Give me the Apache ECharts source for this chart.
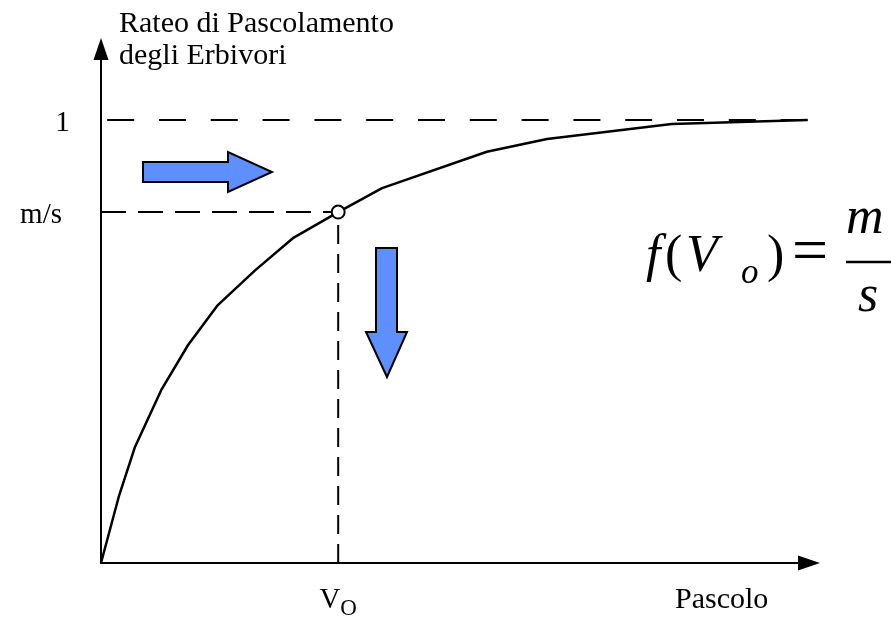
<!DOCTYPE html>
<html>
<head>
<meta charset="utf-8">
<script src="https://cdn.jsdelivr.net/npm/echarts@6/dist/echarts.min.js"></script>
<style>
  html, body { margin: 0; padding: 0; background: #fff; }
  #chart { width: 891px; height: 619px; }
</style>
</head>
<body>
<div id="chart"></div>
<script>
// curva del rateo di pascolamento
var curveX = [0, 0.25, 0.48, 0.85, 1.23, 1.65, 2.18, 2.71, 3.35, 3.97, 5.45, 6.30, 8.06, 9.98];
var curveY = [0, 0.149, 0.262, 0.390, 0.492, 0.582, 0.661, 0.733, 0.792, 0.846, 0.928, 0.957, 0.991, 1.0];
var V0 = 3.35;       // punto di equilibrio
var MS = 0.792;      // m/s
var Y_MAX_LEVEL = 1; // asintoto
var yTickLabels = ['m/s', '1'];
var xTickLabels = ['V', 'O'];

var SERIF = "'Liberation Serif', 'DejaVu Serif', serif";
var BLUE = '#5d8fff';

var curveData = curveX.map(function (x, i) { return [x, curveY[i]]; });

var myChart = echarts.init(document.getElementById('chart'));

var option = {
  animation: false,
  grid: { left: 101, right: 82, top: 49, bottom: 56, outerBoundsMode: 'none', containLabel: false },
  xAxis: {
    type: 'value',
    min: 0,
    max: 10,
    splitLine: { show: false },
    axisTick: { show: false },
    axisLine: {
      onZero: false,
      lineStyle: { color: '#000', width: 2 },
      symbol: ['none', 'triangle'],
      symbolSize: [15, 22]
    },
    axisLabel: {
      customValues: [V0],
      margin: 18,
      formatter: function () {
        return '{v|' + xTickLabels[0] + '}{o|' + xTickLabels[1] + '}';
      },
      rich: {
        v: { fontFamily: SERIF, fontSize: 29, color: '#000' },
        o: { fontFamily: SERIF, fontSize: 23, color: '#000', padding: [16, 0, 0, 0] }
      }
    }
  },
  yAxis: {
    type: 'value',
    min: 0,
    max: 1.16,
    splitLine: { show: false },
    axisTick: { show: false },
    axisLine: {
      onZero: false,
      lineStyle: { color: '#000', width: 2 },
      symbol: ['none', 'triangle'],
      symbolSize: [15, 22]
    },
    axisLabel: {
      customValues: [MS, Y_MAX_LEVEL],
      margin: 31,
      formatter: function (val) {
        return val === MS ? '{ms|' + yTickLabels[0] + '}' : '{one|' + yTickLabels[1] + '}';
      },
      rich: {
        ms: { fontFamily: SERIF, fontSize: 29, color: '#000', padding: [6, 8, 0, 0] },
        one: { fontFamily: SERIF, fontSize: 30, color: '#000', padding: [7, 0, 0, 0] }
      }
    }
  },
  series: [
    {
      // asintoto tratteggiato a 1
      type: 'line',
      data: [[curveX[curveX.length - 1], Y_MAX_LEVEL], [0, Y_MAX_LEVEL]],
      symbol: 'none',
      silent: true,
      lineStyle: { color: '#000', width: 2, type: [27, 24.8] }
    },
    {
      type: 'line',
      data: [[0, MS], [V0, MS]],
      symbol: 'none',
      silent: true,
      lineStyle: { color: '#000', width: 2, type: [25, 12] }
    },
    {
      type: 'line',
      data: [[V0, 0], [V0, MS]],
      symbol: 'none',
      silent: true,
      lineStyle: { color: '#000', width: 2, type: [19, 10] }
    },
    {
      type: 'line',
      data: curveData,
      symbol: 'none',
      smooth: false,
      lineStyle: { color: '#000', width: 2.5 }
    },
    {
      type: 'scatter',
      data: [[V0, MS]],
      symbol: 'circle',
      symbolSize: 13,
      z: 5,
      itemStyle: { color: '#fff', borderColor: '#000', borderWidth: 2, opacity: 1 }
    }
  ],
  graphic: [
    {
      type: 'text', x: 119, y: 8,
      style: {
        text: 'Rateo di Pascolamento\ndegli Erbivori',
        font: '30px ' + SERIF, fill: '#000', lineHeight: 32,
        textAlign: 'left', textVerticalAlign: 'top'
      }
    },
    {
      type: 'text', x: 675, y: 600,
      style: { text: 'Pascolo', font: '30px ' + SERIF, fill: '#000', textAlign: 'left', textVerticalAlign: 'middle' }
    },
    // frecce blu
    {
      type: 'polygon',
      shape: { points: [[143, 162], [228, 162], [228, 152], [272, 172], [228, 192], [228, 182], [143, 182]] },
      style: { fill: BLUE, stroke: '#000', lineWidth: 2 }
    },
    {
      type: 'polygon',
      shape: { points: [[376, 248], [397, 248], [397, 332], [407, 332], [387, 377], [366, 332], [376, 332]] },
      style: { fill: BLUE, stroke: '#000', lineWidth: 2 }
    },
    // formula f(Vo) = m/s
    { type: 'text', x: 646, y: 257, style: { text: 'f', font: 'italic 52px ' + SERIF, fill: '#000', textVerticalAlign: 'middle' } },
    { type: 'text', x: 665, y: 257, style: { text: '(', font: '52px ' + SERIF, fill: '#000', textVerticalAlign: 'middle' } },
    { type: 'text', x: 686, y: 257, style: { text: 'V', font: 'italic 52px ' + SERIF, fill: '#000', textVerticalAlign: 'middle' } },
    { type: 'text', x: 741, y: 274, style: { text: 'o', font: 'italic 35px ' + SERIF, fill: '#000', textVerticalAlign: 'middle' } },
    { type: 'text', x: 767, y: 257, style: { text: ')', font: '52px ' + SERIF, fill: '#000', textVerticalAlign: 'middle' } },
    { type: 'text', x: 792, y: 254, style: { text: '=', font: '64px ' + SERIF, fill: '#000', textVerticalAlign: 'middle' } },
    { type: 'text', x: 846, y: 219, style: { text: 'm', font: 'italic 52px ' + SERIF, fill: '#000', textVerticalAlign: 'middle' } },
    { type: 'line', shape: { x1: 846, y1: 262, x2: 895, y2: 262 }, style: { stroke: '#000', lineWidth: 2.5 } },
    { type: 'text', x: 858, y: 297, style: { text: 's', font: 'italic 52px ' + SERIF, fill: '#000', textVerticalAlign: 'middle' } }
  ]
};

option && myChart.setOption(option);
window.addEventListener('resize', function () {
  myChart.resize();
});
</script>
</body>
</html>
